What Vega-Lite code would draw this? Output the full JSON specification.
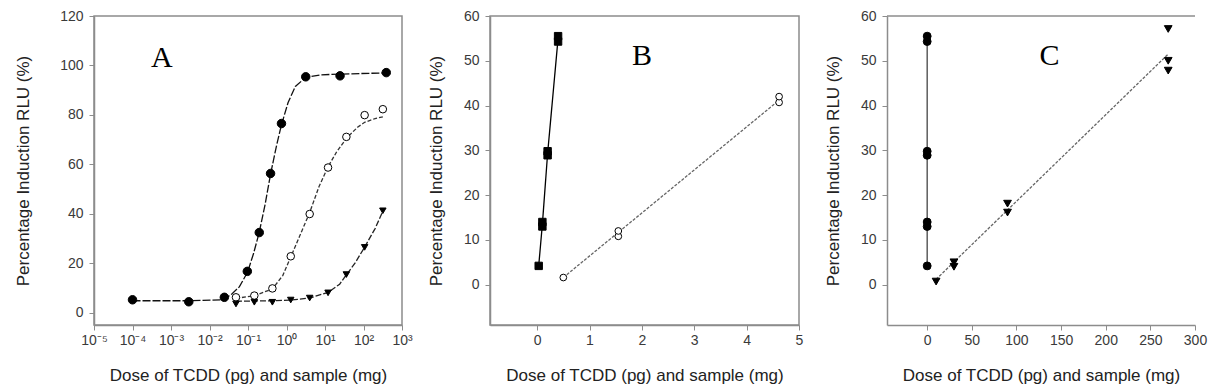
{
  "$schema": "https://vega.github.io/schema/vega-lite/v6.json",
  "background": "white",
  "padding": {"left": 13, "top": 8, "right": 5, "bottom": 5},
  "spacing": 88,
  "bounds": "flush",
  "resolve": {
    "scale": {
      "x": "independent", "y": "independent", "color": "independent",
      "shape": "independent", "fill": "independent", "size": "independent",
      "strokeDash": "independent"
    }
  },
  "datasets": {
    "a_points": [
      {"s": "TCDD", "x": 0.0001, "y": 5.2},
      {"s": "TCDD", "x": 0.0029, "y": 4.4},
      {"s": "TCDD", "x": 0.0243, "y": 6.2},
      {"s": "TCDD", "x": 0.096, "y": 16.7},
      {"s": "TCDD", "x": 0.196, "y": 32.4},
      {"s": "TCDD", "x": 0.385, "y": 56.3},
      {"s": "TCDD", "x": 0.74, "y": 76.5},
      {"s": "TCDD", "x": 3.16, "y": 95.4},
      {"s": "TCDD", "x": 24.6, "y": 95.8},
      {"s": "TCDD", "x": 390, "y": 97.1},
      {"s": "Sample 1", "x": 0.0487, "y": 6.2},
      {"s": "Sample 1", "x": 0.146, "y": 6.9},
      {"s": "Sample 1", "x": 0.43, "y": 9.8},
      {"s": "Sample 1", "x": 1.29, "y": 22.8},
      {"s": "Sample 1", "x": 4.0, "y": 39.9},
      {"s": "Sample 1", "x": 12.0, "y": 58.7},
      {"s": "Sample 1", "x": 35.9, "y": 71.1},
      {"s": "Sample 1", "x": 107, "y": 79.9},
      {"s": "Sample 1", "x": 318, "y": 82.3},
      {"s": "Sample 2", "x": 0.0487, "y": 3.5},
      {"s": "Sample 2", "x": 0.146, "y": 4.2},
      {"s": "Sample 2", "x": 0.43, "y": 4.2},
      {"s": "Sample 2", "x": 1.29, "y": 5.1},
      {"s": "Sample 2", "x": 4.0, "y": 5.9},
      {"s": "Sample 2", "x": 12.0, "y": 8.0},
      {"s": "Sample 2", "x": 35.9, "y": 15.4},
      {"s": "Sample 2", "x": 107, "y": 26.4},
      {"s": "Sample 2", "x": 318, "y": 41.2}
    ],
    "a_curves": [
      {"s": "TCDD", "x": 0.0001, "y": 4.8},
      {"s": "TCDD", "x": 0.003, "y": 4.8},
      {"s": "TCDD", "x": 0.02, "y": 5.2},
      {"s": "TCDD", "x": 0.035, "y": 7.0},
      {"s": "TCDD", "x": 0.06, "y": 10.5},
      {"s": "TCDD", "x": 0.098, "y": 16.5},
      {"s": "TCDD", "x": 0.14, "y": 24.0},
      {"s": "TCDD", "x": 0.196, "y": 32.5},
      {"s": "TCDD", "x": 0.28, "y": 44.0},
      {"s": "TCDD", "x": 0.385, "y": 56.0},
      {"s": "TCDD", "x": 0.55, "y": 67.5},
      {"s": "TCDD", "x": 0.74, "y": 76.0},
      {"s": "TCDD", "x": 1.1, "y": 85.0},
      {"s": "TCDD", "x": 1.7, "y": 91.5},
      {"s": "TCDD", "x": 3.16, "y": 95.2},
      {"s": "TCDD", "x": 8, "y": 96.2},
      {"s": "TCDD", "x": 24.6, "y": 96.5},
      {"s": "TCDD", "x": 390, "y": 97.0},
      {"s": "Sample 1", "x": 0.0487, "y": 5.8},
      {"s": "Sample 1", "x": 0.146, "y": 6.8},
      {"s": "Sample 1", "x": 0.43, "y": 9.6},
      {"s": "Sample 1", "x": 0.8, "y": 15.0},
      {"s": "Sample 1", "x": 1.29, "y": 22.5},
      {"s": "Sample 1", "x": 2.2, "y": 31.0},
      {"s": "Sample 1", "x": 4.0, "y": 40.5},
      {"s": "Sample 1", "x": 7.0, "y": 51.0},
      {"s": "Sample 1", "x": 12.0, "y": 59.0},
      {"s": "Sample 1", "x": 20.0, "y": 65.0},
      {"s": "Sample 1", "x": 35.9, "y": 70.5},
      {"s": "Sample 1", "x": 70, "y": 75.0},
      {"s": "Sample 1", "x": 107, "y": 77.0},
      {"s": "Sample 1", "x": 200, "y": 78.5},
      {"s": "Sample 1", "x": 318, "y": 79.2},
      {"s": "Sample 2", "x": 0.0487, "y": 4.6},
      {"s": "Sample 2", "x": 0.146, "y": 4.7},
      {"s": "Sample 2", "x": 0.43, "y": 4.8},
      {"s": "Sample 2", "x": 1.29, "y": 5.1},
      {"s": "Sample 2", "x": 4.0, "y": 5.9},
      {"s": "Sample 2", "x": 12.0, "y": 8.2},
      {"s": "Sample 2", "x": 24.0, "y": 11.5},
      {"s": "Sample 2", "x": 35.9, "y": 15.3},
      {"s": "Sample 2", "x": 60, "y": 20.0},
      {"s": "Sample 2", "x": 107, "y": 26.5},
      {"s": "Sample 2", "x": 200, "y": 34.0},
      {"s": "Sample 2", "x": 318, "y": 41.0}
    ],
    "b_points": [
      {"s": "TCDD", "x": 0.03, "y": 4.2},
      {"s": "TCDD", "x": 0.1, "y": 13.0},
      {"s": "TCDD", "x": 0.1, "y": 14.0},
      {"s": "TCDD", "x": 0.2, "y": 28.9},
      {"s": "TCDD", "x": 0.2, "y": 29.8},
      {"s": "TCDD", "x": 0.4, "y": 54.3},
      {"s": "TCDD", "x": 0.4, "y": 55.5},
      {"s": "Sample 1", "x": 0.5, "y": 1.6},
      {"s": "Sample 1", "x": 1.55, "y": 10.8},
      {"s": "Sample 1", "x": 1.55, "y": 12.0},
      {"s": "Sample 1", "x": 4.62, "y": 40.7},
      {"s": "Sample 1", "x": 4.62, "y": 42.0}
    ],
    "b_lines": [
      {"s": "TCDD", "x": 0.03, "y": 4.2},
      {"s": "TCDD", "x": 0.1, "y": 13.5},
      {"s": "TCDD", "x": 0.2, "y": 29.3},
      {"s": "TCDD", "x": 0.4, "y": 55.0},
      {"s": "Sample 1", "x": 0.5, "y": 1.6},
      {"s": "Sample 1", "x": 4.62, "y": 41.2}
    ],
    "c_points": [
      {"s": "TCDD", "x": 0, "y": 4.2},
      {"s": "TCDD", "x": 0, "y": 13.0},
      {"s": "TCDD", "x": 0, "y": 14.0},
      {"s": "TCDD", "x": 0, "y": 28.9},
      {"s": "TCDD", "x": 0, "y": 29.8},
      {"s": "TCDD", "x": 0, "y": 54.3},
      {"s": "TCDD", "x": 0, "y": 55.5},
      {"s": "Sample 2", "x": 10, "y": 0.7},
      {"s": "Sample 2", "x": 30, "y": 4.0},
      {"s": "Sample 2", "x": 30, "y": 5.0},
      {"s": "Sample 2", "x": 90, "y": 16.1},
      {"s": "Sample 2", "x": 90, "y": 18.1},
      {"s": "Sample 2", "x": 270, "y": 47.8},
      {"s": "Sample 2", "x": 270, "y": 50.0},
      {"s": "Sample 2", "x": 270, "y": 57.1}
    ],
    "c_lines": [
      {"s": "TCDD", "x": 0, "y": 4.2},
      {"s": "TCDD", "x": 0, "y": 55.0},
      {"s": "Sample 2", "x": 10, "y": 1.2},
      {"s": "Sample 2", "x": 270, "y": 51.5}
    ],
    "letters": [
      {"panel": "A", "t": "A", "x": 0.00058, "y": 103},
      {"panel": "B", "t": "B", "x": 2.0, "y": 51},
      {"panel": "C", "t": "C", "x": 137, "y": 51}
    ]
  },
  "hconcat": [
    {
      "width": 308,
      "height": 309,
      "layer": [
        {
          "data": {"name": "a_curves"},
          "mark": {"type": "line", "strokeWidth": 1.3},
          "encoding": {
            "x": {"field": "x", "type": "quantitative",
                  "scale": {"type": "log", "domain": [0.00001, 1000], "nice": false},
                  "axis": {"title": "Dose of TCDD (pg) and sample (mg)",
                           "values": [0.00001, 0.0001, 0.001, 0.01, 0.1, 1, 10, 100, 1000],
                           "labelExpr": "'10' + (datum.value < 1 ? '⁻' : '') + substring('⁰¹²³⁴⁵⁶⁷⁸⁹', abs(round(log(datum.value) / LN10)), abs(round(log(datum.value) / LN10)) + 1)"}},
            "y": {"field": "y", "type": "quantitative",
                  "scale": {"domain": [-5, 120], "nice": false, "zero": false},
                  "axis": {"title": "Percentage Induction RLU (%)", "titlePadding": 27,
                           "values": [0, 20, 40, 60, 80, 100, 120]}},
            "color": {"field": "s", "type": "nominal", "legend": null,
                      "scale": {"domain": ["TCDD", "Sample 1", "Sample 2"], "range": ["#111111", "#333333", "#222222"]}},
            "strokeDash": {"field": "s", "type": "nominal", "legend": null,
                           "scale": {"domain": ["TCDD", "Sample 1", "Sample 2"], "range": [[8, 2], [4, 2], [6, 2]]}}
          }
        },
        {
          "data": {"name": "a_points"},
          "mark": {"type": "point", "filled": true, "stroke": "black", "strokeWidth": 1, "opacity": 1},
          "encoding": {
            "x": {"field": "x", "type": "quantitative"},
            "y": {"field": "y", "type": "quantitative"},
            "shape": {"field": "s", "type": "nominal", "legend": null,
                      "scale": {"domain": ["TCDD", "Sample 1", "Sample 2"], "range": ["circle", "circle", "triangle-down"]}},
            "fill": {"field": "s", "type": "nominal", "legend": null,
                     "scale": {"domain": ["TCDD", "Sample 1", "Sample 2"], "range": ["black", "white", "black"]}},
            "size": {"field": "s", "type": "nominal", "legend": null,
                     "scale": {"domain": ["TCDD", "Sample 1", "Sample 2"], "range": [72, 42, 62]}}
          }
        },
        {
          "data": {"name": "letters"},
          "transform": [{"filter": "datum.panel === 'A'"}],
          "mark": {"type": "text", "font": "Liberation Serif", "fontSize": 30, "color": "black", "baseline": "middle", "align": "center"},
          "encoding": {
            "x": {"field": "x", "type": "quantitative"},
            "y": {"field": "y", "type": "quantitative"},
            "text": {"field": "t"}
          }
        }
      ]
    },
    {
      "width": 309,
      "height": 309,
      "layer": [
        {
          "data": {"name": "b_lines"},
          "mark": {"type": "line", "strokeWidth": 1.3},
          "encoding": {
            "x": {"field": "x", "type": "quantitative",
                  "scale": {"domain": [-0.9, 5], "nice": false, "zero": false},
                  "axis": {"title": "Dose of TCDD (pg) and sample (mg)", "values": [0, 1, 2, 3, 4, 5]}},
            "y": {"field": "y", "type": "quantitative",
                  "scale": {"domain": [-9, 60], "nice": false, "zero": false},
                  "axis": {"title": "Percentage Induction RLU (%)", "titlePadding": 18,
                           "values": [0, 10, 20, 30, 40, 50, 60]}},
            "color": {"field": "s", "type": "nominal", "legend": null,
                      "scale": {"domain": ["TCDD", "Sample 1"], "range": ["#000000", "#666666"]}},
            "strokeDash": {"field": "s", "type": "nominal", "legend": null,
                           "scale": {"domain": ["TCDD", "Sample 1"], "range": [[1, 0], [3, 1.5]]}}
          }
        },
        {
          "data": {"name": "b_points"},
          "mark": {"type": "point", "filled": true, "stroke": "black", "strokeWidth": 1, "opacity": 1},
          "encoding": {
            "x": {"field": "x", "type": "quantitative"},
            "y": {"field": "y", "type": "quantitative"},
            "shape": {"field": "s", "type": "nominal", "legend": null,
                      "scale": {"domain": ["TCDD", "Sample 1"], "range": ["square", "circle"]}},
            "fill": {"field": "s", "type": "nominal", "legend": null,
                     "scale": {"domain": ["TCDD", "Sample 1"], "range": ["black", "white"]}},
            "size": {"field": "s", "type": "nominal", "legend": null,
                     "scale": {"domain": ["TCDD", "Sample 1"], "range": [55, 45]}}
          }
        },
        {
          "data": {"name": "letters"},
          "transform": [{"filter": "datum.panel === 'B'"}],
          "mark": {"type": "text", "font": "Liberation Serif", "fontSize": 30, "color": "black", "baseline": "middle", "align": "center"},
          "encoding": {
            "x": {"field": "x", "type": "quantitative"},
            "y": {"field": "y", "type": "quantitative"},
            "text": {"field": "t"}
          }
        }
      ]
    },
    {
      "width": 308,
      "height": 309,
      "view": {"stroke": null},
      "layer": [
        {
          "data": {"values": [{}]},
          "mark": {"type": "rule", "color": "#8c8c8c", "strokeWidth": 1.5},
          "encoding": {"y": {"datum": 60, "type": "quantitative"}}
        },
        {
          "data": {"name": "c_lines"},
          "mark": {"type": "line", "strokeWidth": 1.3},
          "encoding": {
            "x": {"field": "x", "type": "quantitative",
                  "scale": {"domain": [-45, 300], "nice": false, "zero": false},
                  "axis": {"title": "Dose of TCDD (pg) and sample (mg)", "values": [0, 50, 100, 150, 200, 250, 300]}},
            "y": {"field": "y", "type": "quantitative",
                  "scale": {"domain": [-9, 60], "nice": false, "zero": false},
                  "axis": {"title": "Percentage Induction RLU (%)", "titlePadding": 18,
                           "values": [0, 10, 20, 30, 40, 50, 60]}},
            "color": {"field": "s", "type": "nominal", "legend": null,
                      "scale": {"domain": ["TCDD", "Sample 2"], "range": ["#444444", "#666666"]}},
            "strokeDash": {"field": "s", "type": "nominal", "legend": null,
                           "scale": {"domain": ["TCDD", "Sample 2"], "range": [[1, 0], [3, 1.5]]}}
          }
        },
        {
          "data": {"name": "c_points"},
          "mark": {"type": "point", "filled": true, "stroke": "black", "strokeWidth": 1, "opacity": 1},
          "encoding": {
            "x": {"field": "x", "type": "quantitative"},
            "y": {"field": "y", "type": "quantitative"},
            "shape": {"field": "s", "type": "nominal", "legend": null,
                      "scale": {"domain": ["TCDD", "Sample 2"], "range": ["circle", "triangle-down"]}},
            "fill": {"field": "s", "type": "nominal", "legend": null,
                     "scale": {"domain": ["TCDD", "Sample 2"], "range": ["black", "black"]}},
            "size": {"field": "s", "type": "nominal", "legend": null,
                     "scale": {"domain": ["TCDD", "Sample 2"], "range": [62, 60]}}
          }
        },
        {
          "data": {"name": "letters"},
          "transform": [{"filter": "datum.panel === 'C'"}],
          "mark": {"type": "text", "font": "Liberation Serif", "fontSize": 30, "color": "black", "baseline": "middle", "align": "center"},
          "encoding": {
            "x": {"field": "x", "type": "quantitative"},
            "y": {"field": "y", "type": "quantitative"},
            "text": {"field": "t"}
          }
        }
      ]
    }
  ],
  "config": {
    "view": {"stroke": "#8c8c8c", "strokeWidth": 1.5},
    "axis": {
      "grid": false,
      "domainColor": "#8c8c8c",
      "domainWidth": 1.5,
      "tickColor": "#8c8c8c",
      "tickWidth": 1,
      "tickSize": 5,
      "labelFont": "Liberation Sans",
      "labelFontSize": 14,
      "labelColor": "#3a3a3a",
      "labelPadding": 3,
      "labelFlush": false,
      "labelOverlap": false,
      "titleFont": "Liberation Sans",
      "titleFontSize": 17,
      "titleFontWeight": "normal",
      "titleColor": "#222222"
    },
    "axisX": {"titlePadding": 20},
    "axisY": {"labelPadding": 6}
  }
}
